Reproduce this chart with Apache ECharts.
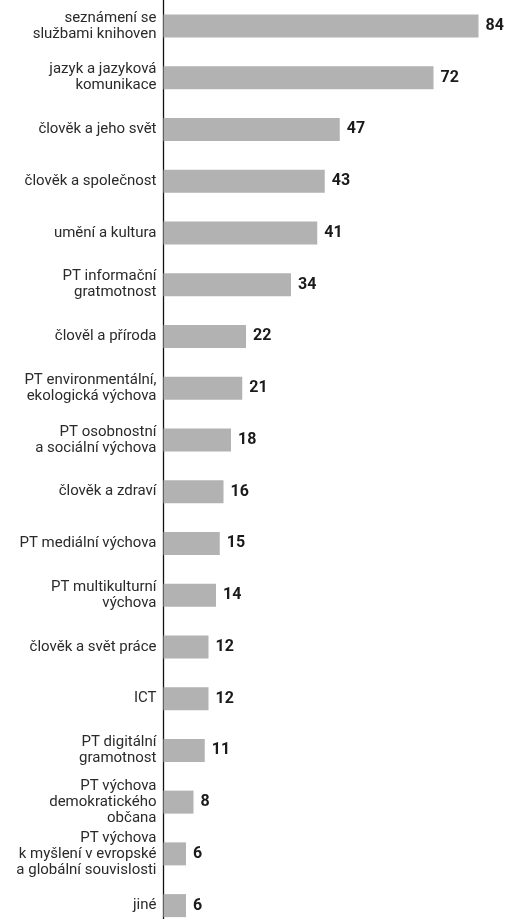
<!DOCTYPE html>
<html>
<head>
<meta charset="utf-8">
<script src="https://cdn.jsdelivr.net/npm/echarts@6/dist/echarts.min.js"></script>
<style>
html,body{margin:0;padding:0;background:#fff;}
#chart{width:508px;height:919px;}
</style>
</head>
<body>
<div id="chart"></div>
<script>
const categories = [
  "seznámení se\nslužbami knihoven",
  "jazyk a jazyková\nkomunikace",
  "člověk a jeho svět",
  "člověk a společnost",
  "umění a kultura",
  "PT informační\ngratmotnost",
  "člověl a příroda",
  "PT environmentální,\nekologická výchova",
  "PT osobnostní\na sociální výchova",
  "člověk a zdraví",
  "PT mediální výchova",
  "PT multikulturní\nvýchova",
  "člověk a svět práce",
  "ICT",
  "PT digitální\ngramotnost",
  "PT výchova\ndemokratického\nobčana",
  "PT výchova\nk myšlení v evropské\na globální souvislosti",
  "jiné"
];
const values = [84, 72, 47, 43, 41, 34, 22, 21, 18, 16, 15, 14, 12, 12, 11, 8, 6, 6];

const chart = echarts.init(document.getElementById('chart'), null, {renderer: 'canvas'});
chart.setOption({
  animation: false,
  backgroundColor: '#ffffff',
  grid: {left: 163.5, top: 0, width: 337.5, height: 931.5, containLabel: false, outerBoundsMode: 'none'},
  xAxis: {
    type: 'value', min: 0, max: 90, show: false
  },
  yAxis: {
    type: 'category',
    data: categories,
    inverse: true,
    axisLine: {show: true, lineStyle: {color: '#111', width: 1.3}},
    axisTick: {show: false},
    splitLine: {show: false},
    axisLabel: {
      margin: 7,
      color: '#2a2a2a',
      fontFamily: 'Roboto',
      fontSize: 15,
      lineHeight: 16,
      align: 'right'
    }
  },
  series: [{
    type: 'bar',
    data: values,
    barWidth: 23,
    itemStyle: {color: '#b2b2b2'},
    label: {
      show: true,
      position: 'right',
      distance: 7,
      color: '#1a1a1a',
      fontFamily: 'Roboto',
      fontWeight: 'bold',
      fontSize: 16
    }
  }]
});
</script>
</body>
</html>
